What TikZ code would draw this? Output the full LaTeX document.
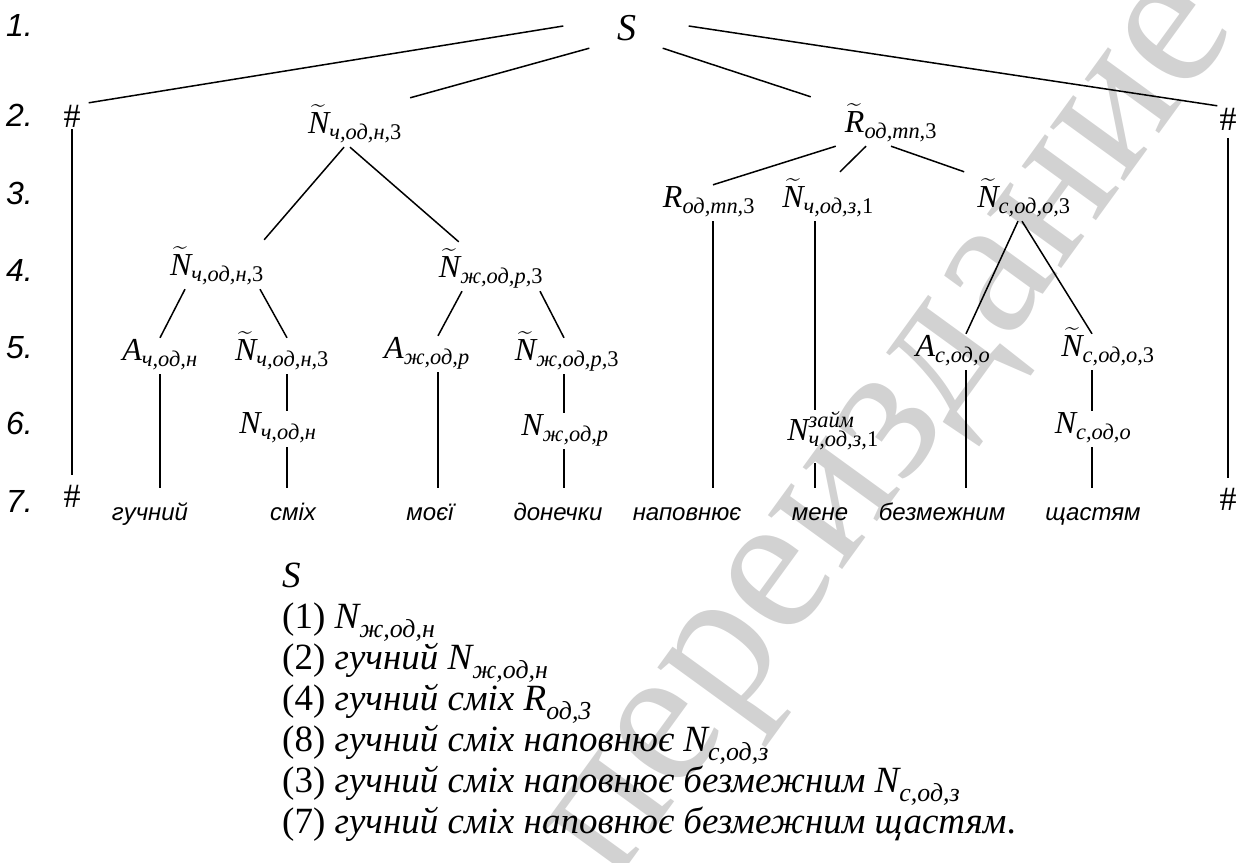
\documentclass[tikz,border=0pt]{standalone}
\usepackage{fontspec}
\usepackage{amsmath}
\setmainfont{Liberation Serif}
\newfontfamily\arialf{Liberation Sans}

\newcommand{\sym}[2]{$\textit{#1}_{\textit{#2}}$}
\newcommand{\tsym}[2]{$\widetilde{\textit{#1}}_{\textit{#2}}$}

\begin{document}
\begin{tikzpicture}[
    x=1pt, y=-1pt,
    every node/.style={inner sep=0pt, anchor=base},
    lbl/.style={text height=22pt, text depth=14pt, font=\fontsize{32}{36}\selectfont},
    tlbl/.style={lbl, text height=35pt},
    hashnode/.style={text height=24pt, text depth=2pt, font=\fontsize{34}{38}\selectfont},
    word/.style={text height=32pt, text depth=0pt, font=\arialf\itshape\fontsize{24}{28}\selectfont},
    rownum/.style={anchor=base west, font=\arialf\itshape\fontsize{32}{36}\selectfont},
    deriv/.style={anchor=base west, font=\fontsize{37}{41}\selectfont},
    link/.style={line width=1.5pt}
]
\useasboundingbox (0,0) rectangle (1239,862);

% Watermark
\node[anchor=center, rotate=54, text=gray!35, font=\fontsize{200}{210}\selectfont] (wm) at (905,440) {переиздание};

% Row numbers
\foreach \i/\y in {1/36,2/126,3/204,4/281,5/358,6/434,7/512} {
    \node[rownum] (row\i) at (6,\y) {\i.};
}

% Tree nodes
\node[lbl, font=\fontsize{38}{40}\selectfont, text height=28pt, text depth=0pt] (s) at (627,40) {\textit{S}};
\node[hashnode] (hl2) at (72,127) {\#};
\node[tlbl] (n2) at (355,133) {\tsym{N}{ч,од,н,\textup{3}}};
\node[tlbl] (r2) at (891,132) {\tsym{R}{од,тп,\textup{3}}};
\node[hashnode] (hr2) at (1228,130) {\#};

\node[lbl] (r3) at (709,207) {\sym{R}{од,тп,\textup{3}}};
\node[tlbl] (n3z) at (828,207) {\tsym{N}{ч,од,з,\textup{1}}};
\node[tlbl] (n3c) at (1024,207) {\tsym{N}{с,од,о,\textup{3}}};

\node[tlbl] (n4a) at (217,275) {\tsym{N}{ч,од,н,\textup{3}}};
\node[tlbl] (n4b) at (491,277) {\tsym{N}{ж,од,р,\textup{3}}};

\node[lbl] (a5a) at (160,360) {\sym{A}{ч,од,н}};
\node[lbl] (n5a) at (282,360) {\tsym{N}{ч,од,н,\textup{3}}};
\node[lbl] (a5b) at (427,358) {\sym{A}{ж,од,р}};
\node[lbl] (n5b) at (567,360) {\tsym{N}{ж,од,р,\textup{3}}};
\node[lbl] (a5c) at (953,356) {\sym{A}{с,од,о}};
\node[lbl] (n5c) at (1108,356) {\tsym{N}{с,од,о,\textup{3}}};

\node[lbl] (n6a) at (278,433) {\sym{N}{ч,од,н}};
\node[lbl] (n6b) at (565,435) {\sym{N}{ж,од,р}};
\node[lbl, text height=30pt, text depth=23pt] (n6z) at (833,440) {$\textit{N}^{\textit{займ}}_{\textit{ч,од,з,}\textup{1}}$};
\node[lbl] (n6c) at (1093,433) {\sym{N}{с,од,о}};

\node[hashnode] (hl7) at (72,507) {\#};
\node[hashnode] (hr7) at (1228,510) {\#};

% Words
\foreach \n/\x/\w in {w1/150/гучний, w2/293/сміх, w3/430/моєї, w4/558/донечки,
                      w5/687/наповнює, w6/820/мене, w7/942/безмежним, w8/1093/щастям} {
    \node[word] (\n) at (\x,520) {\w};
}

% Links from S
\draw[link] ([xshift=-54]s.west) -- ([xshift=8]hl2.north east);
\draw[link] ([xshift=-28,yshift=-8]s.south west) -- ([xshift=8]n2.north east);
\draw[link] ([xshift=26,yshift=-8]s.south east) -- ([xshift=-34]r2.north west);
\draw[link] ([xshift=52]s.east) -- ([xshift=-2]hr2.north west);

% Boundary markers
\draw[link, shorten >=8pt] (hl2.south) -- (hl7.north);
\draw[link, shorten <=6pt, shorten >=8pt] (hr2.south) -- (hr7.north);

% Left subtree
\draw[link] ([xshift=-11]n2.south) -- (n4a.north east);
\draw[link] ([xshift=-5]n2.south) -- ([xshift=20]n4b.north west);
\draw[link] ([xshift=-32]n4a.south) -- (a5a.north);
\draw[link] ([xshift=43]n4a.south) -- ([xshift=5]n5a.north);
\draw[link] ([xshift=-29]n4b.south) -- ([xshift=11]a5b.north);
\draw[link] ([xshift=49]n4b.south) -- ([xshift=-3]n5b.north);

\draw[link] (a5a.south) -- (a5a.south |- w1.north);
\draw[link] ([xshift=5]n5a.south) -- ([xshift=5]n5a.south |- n6a.north);
\draw[link] ([xshift=9]n6a.south) -- ([xshift=9]n6a.south |- w2.north);
\draw[link] ([xshift=11]a5b.south) -- ([xshift=11]a5b.south |- w3.north);
\draw[link] ([xshift=-3]n5b.south) -- ([xshift=-3]n5b.south |- n6b.north);
\draw[link] ([xshift=-1]n6b.south) -- ([xshift=-1]n6b.south |- w4.north);

% Right subtree
\draw[link] ([xshift=-9]r2.south west) -- ([xshift=4]r3.north);
\draw[link] ([xshift=-25]r2.south) -- ([xshift=12]n3z.north);
\draw[link] (r2.south) -- ([xshift=-13]n3c.north west);
\draw[link] ([xshift=4]r3.south) -- ([xshift=4]r3.south |- w5.north);
\draw[link] ([xshift=-13]n3z.south) -- ([xshift=-13]n3z.south |- n6z.north);
\draw[link] ([xshift=-18]n6z.south) -- ([xshift=-18]n6z.south |- w6.north);
\draw[link] ([xshift=-6]n3c.south) -- ([xshift=13]a5c.north);
\draw[link] ([xshift=-2]n3c.south) -- ([xshift=-16]n5c.north);
\draw[link] ([xshift=13]a5c.south) -- ([xshift=13]a5c.south |- w7.north);
\draw[link] ([xshift=-16]n5c.south) -- ([xshift=-16]n5c.south |- n6c.north);
\draw[link] ([xshift=-1]n6c.south) -- ([xshift=-1]n6c.south |- w8.north);

% Derivation
\node[deriv] (d0) at (282,587) {\textit{S}};
\node[deriv] (d1) at (282,628) {(1) \sym{N}{ж,од,н}};
\node[deriv] (d2) at (282,669) {(2) \textit{гучний} \sym{N}{ж,од,н}};
\node[deriv] (d3) at (282,710) {(4) \textit{гучний сміх} \sym{R}{од,3}};
\node[deriv] (d4) at (282,751) {(8) \textit{гучний сміх наповнює} \sym{N}{с,од,з}};
\node[deriv] (d5) at (282,792) {(3) \textit{гучний сміх наповнює безмежним} \sym{N}{с,од,з}};
\node[deriv] (d6) at (282,833) {(7) \textit{гучний сміх наповнює безмежним щастям}.};

\end{tikzpicture}
\end{document}
